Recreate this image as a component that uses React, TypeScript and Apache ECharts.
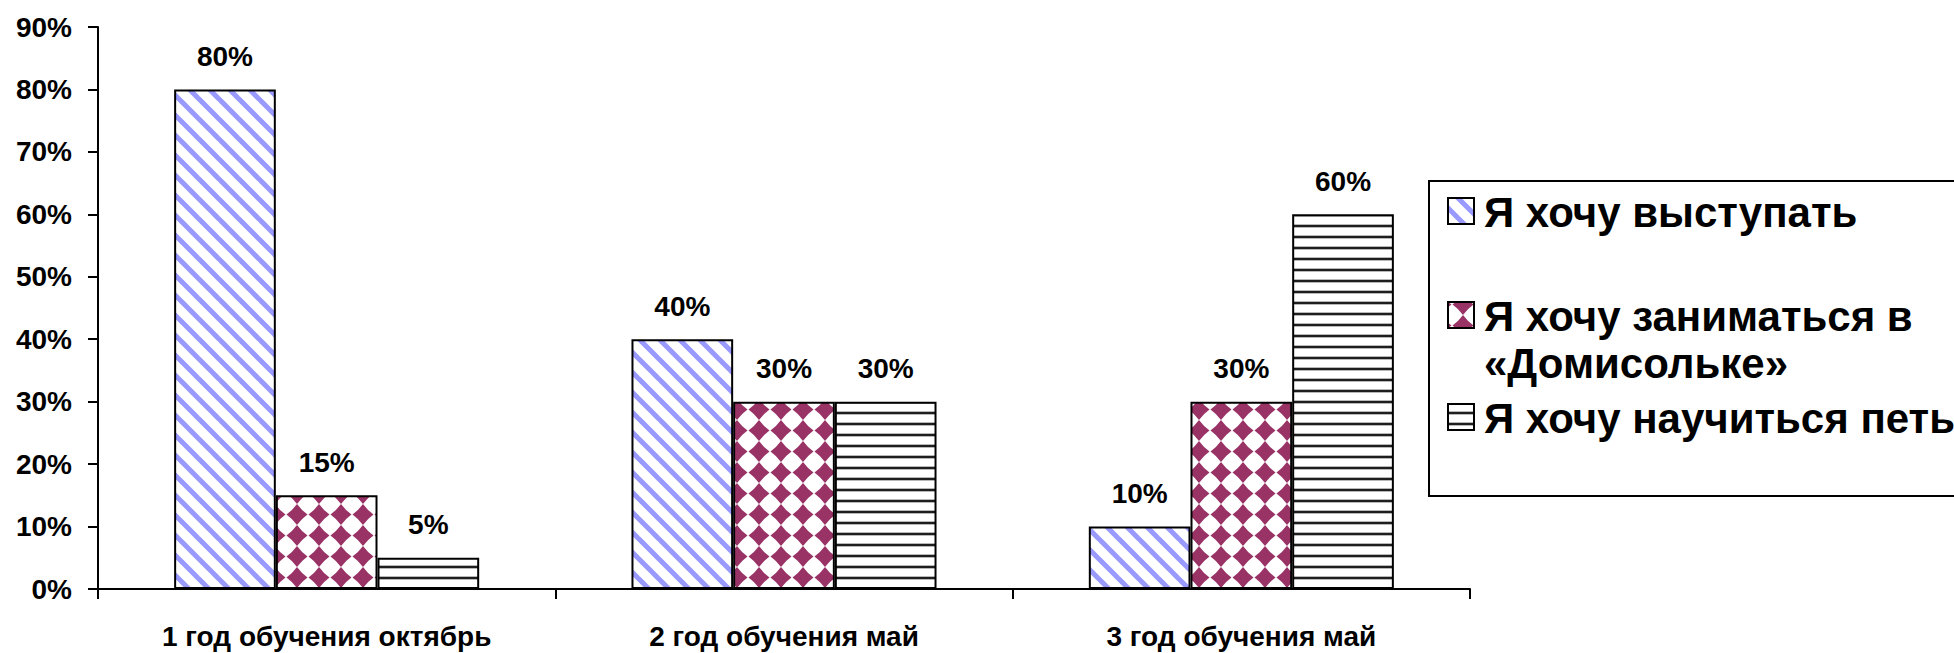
import React, { useEffect, useRef } from 'react';
import * as echarts from 'echarts';

const categories = ['1 год обучения октябрь', '2 год обучения май', '3 год обучения май'];
const seriesNames = ['Я хочу выступать', 'Я хочу заниматься в «Домисольке»', 'Я хочу научиться петь'];
const wantPerform = [80, 40, 10];
const wantStudy = [15, 30, 30];
const wantSing = [5, 30, 60];
const legendLines = [['Я хочу выступать'], ['Я хочу заниматься в', '«Домисольке»'], ['Я хочу научиться петь']];

const FONT = '"Liberation Sans", Arial, sans-serif';

function makeTile(w: number, h: number, draw: (ctx: CanvasRenderingContext2D) => void) {
  const c = document.createElement('canvas');
  c.width = w;
  c.height = h;
  const ctx = c.getContext('2d') as CanvasRenderingContext2D;
  ctx.fillStyle = '#ffffff';
  ctx.fillRect(0, 0, w, h);
  draw(ctx);
  return { image: c.toDataURL(), repeat: 'repeat', imageWidth: w, imageHeight: h } as any;
}

function diagonalPattern() {
  return makeTile(20, 20, (ctx) => {
    ctx.strokeStyle = '#9999ff';
    ctx.lineWidth = 5;
    for (let k = -1; k <= 1; k++) {
      ctx.beginPath();
      ctx.moveTo(k * 20 - 5, -5);
      ctx.lineTo(k * 20 + 25, 25);
      ctx.stroke();
    }
  });
}

function diamondPattern() {
  return makeTile(22, 21, (ctx) => {
    ctx.fillStyle = '#993366';
    const cx = 11, cy = 10.5, r = 10.5, q = 4.4;
    ctx.beginPath();
    ctx.moveTo(cx, cy - r);
    ctx.quadraticCurveTo(cx + q, cy - q, cx + r, cy);
    ctx.quadraticCurveTo(cx + q, cy + q, cx, cy + r);
    ctx.quadraticCurveTo(cx - q, cy + q, cx - r, cy);
    ctx.quadraticCurveTo(cx - q, cy - q, cx, cy - r);
    ctx.closePath();
    ctx.fill();
  });
}

function linesPattern() {
  return makeTile(4, 11, (ctx) => {
    ctx.fillStyle = '#b8b8b8';
    ctx.fillRect(0, 4, 4, 1);
    ctx.fillRect(0, 7, 4, 1);
    ctx.fillStyle = '#1e1e1e';
    ctx.fillRect(0, 5, 4, 2);
  });
}

export default function App() {
  const ref = useRef<HTMLDivElement>(null);

  useEffect(() => {
    if (!ref.current) return;
    const chart = echarts.init(ref.current, undefined, { renderer: 'svg' });
    const patterns = [diagonalPattern(), diamondPattern(), linesPattern()];
    const values = [wantPerform, wantStudy, wantSing];

    const labelStyle = {
      show: true,
      position: 'top',
      distance: 19,
      formatter: '{c}%',
      fontSize: 28,
      fontWeight: 'bold',
      fontFamily: FONT,
      color: '#000',
    };

    const markerY = [198, 302, 404];
    const textY = [[212.5], [316.5, 363.5], [418.5]];
    const graphic: any[] = [
      {
        type: 'rect',
        shape: { x: 1429, y: 181, width: 700, height: 315 },
        style: { fill: '#ffffff', stroke: '#000', lineWidth: 2 },
        z: 10,
      },
    ];
    legendLines.forEach((lines, i) => {
      graphic.push({
        type: 'rect',
        shape: { x: 1448, y: markerY[i], width: 26, height: 26 },
        style: { fill: patterns[i], stroke: '#000', lineWidth: 2 },
        z: 11,
      });
      lines.forEach((t, j) => {
        graphic.push({
          type: 'text',
          x: 1484,
          y: textY[i][j],
          style: {
            text: t,
            fontSize: 42,
            fontWeight: 'bold',
            fontFamily: FONT,
            fill: '#000',
            align: 'left',
            verticalAlign: 'middle',
          },
          z: 11,
        });
      });
    });

    chart.setOption({
      animation: false,
      backgroundColor: '#ffffff',
      textStyle: { fontFamily: FONT },
      grid: { left: 98, top: 27, width: 1372, height: 562, containLabel: false },
      xAxis: {
        type: 'category',
        data: categories,
        boundaryGap: true,
        axisLine: { show: true, lineStyle: { color: '#000', width: 2 } },
        axisTick: { show: true, length: 10, inside: false, lineStyle: { color: '#000', width: 2 } },
        axisLabel: { fontSize: 28, fontWeight: 'bold', color: '#000', margin: 33, fontFamily: FONT },
        splitLine: { show: false },
      },
      yAxis: {
        type: 'value',
        min: 0,
        max: 90,
        interval: 10,
        axisLine: { show: true, lineStyle: { color: '#000', width: 2 } },
        axisTick: { show: true, length: 10, lineStyle: { color: '#000', width: 2 } },
        axisLabel: { formatter: '{value}%', fontSize: 28, fontWeight: 'bold', color: '#000', margin: 26, fontFamily: FONT },
        splitLine: { show: false },
      },
      series: seriesNames.map((name, i) => ({
        name,
        type: 'bar',
        data: values[i],
        barGap: '0%',
        barCategoryGap: '33.3%',
        itemStyle: { color: patterns[i], borderColor: '#000', borderWidth: 2 },
        label: labelStyle,
      })),
      graphic,
    });

    return () => chart.dispose();
  }, []);

  return (
    <div
      ref={ref}
      style={{ position: 'absolute', left: 0, top: 0, width: 1954, height: 653, background: '#fff' }}
    />
  );
}
